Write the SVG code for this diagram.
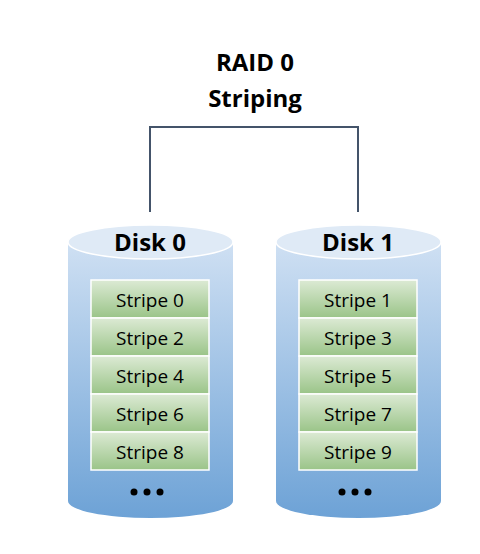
<svg xmlns="http://www.w3.org/2000/svg" width="480" height="554" viewBox="0 0 480 554">
<defs>
<linearGradient id="body" x1="0" y1="0" x2="0" y2="1">
<stop offset="0" stop-color="#cfe0f3"/>
<stop offset="1" stop-color="#6da2d6"/>
</linearGradient>
<linearGradient id="stripe" x1="0" y1="0" x2="0" y2="1">
<stop offset="0" stop-color="#dcead4"/>
<stop offset="1" stop-color="#9ac488"/>
</linearGradient>
<style>
.top{fill:#dfeaf6;stroke:#ffffff;stroke-width:1.5}
.body{fill:url(#body)}
.st{fill:url(#stripe);stroke:#ffffff;stroke-width:1.5}
.lbl{font-family:"Open Sans","Liberation Sans",sans-serif;font-size:19px;fill:#000;text-anchor:middle}
.disk{font-family:"Open Sans","Liberation Sans",sans-serif;font-size:24px;font-weight:bold;fill:#000;text-anchor:middle}
.title{font-family:"Open Sans","Liberation Sans",sans-serif;font-size:24px;font-weight:bold;fill:#000;text-anchor:middle}
.conn{fill:none;stroke:#44546a;stroke-width:2}
</style>
</defs>
<rect width="480" height="554" fill="#ffffff"/>
<g id="title">
<text class="title" x="255" y="71">RAID 0</text>
<text class="title" x="255" y="107">Striping</text>
</g>
<g id="connectors">
<path class="conn" d="M150,212 V127 H358 V212"/>
</g>
<g id="disk0">
<path class="body" d="M68,242 V501 A82.5,17 0 0 0 233,501 V242 Z"/>
<ellipse class="top" cx="150.5" cy="242" rx="82.5" ry="17"/>
<text class="disk" x="150" y="251">Disk 0</text>
<rect class="st" x="91" y="280" width="118" height="38"/>
<rect class="st" x="91" y="318" width="118" height="38"/>
<rect class="st" x="91" y="356" width="118" height="38"/>
<rect class="st" x="91" y="394" width="118" height="38"/>
<rect class="st" x="91" y="432" width="118" height="38"/>
<text class="lbl" x="150" y="307">Stripe 0</text>
<text class="lbl" x="150" y="345">Stripe 2</text>
<text class="lbl" x="150" y="383">Stripe 4</text>
<text class="lbl" x="150" y="421">Stripe 6</text>
<text class="lbl" x="150" y="459">Stripe 8</text>
<circle cx="134" cy="492" r="3.5"/><circle cx="147" cy="492" r="3.5"/><circle cx="160" cy="492" r="3.5"/>
</g>
<g id="disk1">
<path class="body" d="M276,242 V501 A82.5,17 0 0 0 441,501 V242 Z"/>
<ellipse class="top" cx="358.5" cy="242" rx="82.5" ry="17"/>
<text class="disk" x="358" y="251">Disk 1</text>
<rect class="st" x="299" y="280" width="118" height="38"/>
<rect class="st" x="299" y="318" width="118" height="38"/>
<rect class="st" x="299" y="356" width="118" height="38"/>
<rect class="st" x="299" y="394" width="118" height="38"/>
<rect class="st" x="299" y="432" width="118" height="38"/>
<text class="lbl" x="358" y="307">Stripe 1</text>
<text class="lbl" x="358" y="345">Stripe 3</text>
<text class="lbl" x="358" y="383">Stripe 5</text>
<text class="lbl" x="358" y="421">Stripe 7</text>
<text class="lbl" x="358" y="459">Stripe 9</text>
<circle cx="342" cy="492" r="3.5"/><circle cx="355" cy="492" r="3.5"/><circle cx="368" cy="492" r="3.5"/>
</g>
</svg>
